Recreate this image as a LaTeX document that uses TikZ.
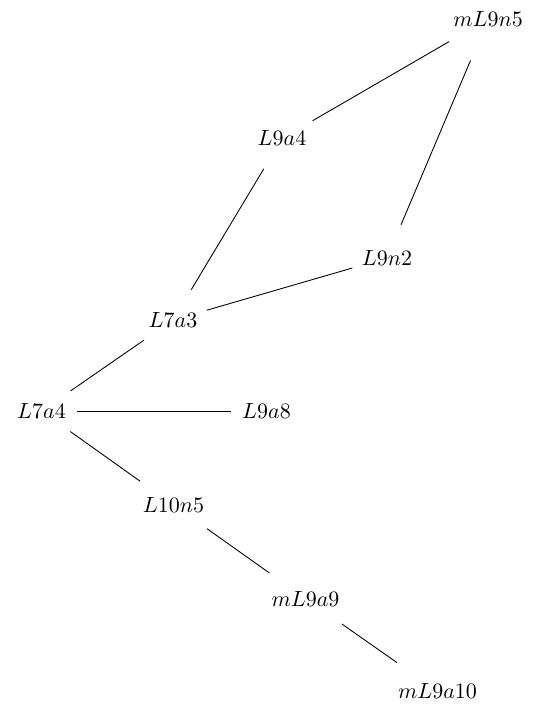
\documentclass[tikz,border=0pt]{standalone}
\usepackage{amsmath,amssymb}
\usetikzlibrary{positioning}
\tikzstyle{knot} = [circle]
\tikzstyle{link} = [thin]

\begin{document}
\begin{tikzpicture}[every node/.style={knot}]
\useasboundingbox (0,0) rectangle (8.658,11.262);
\node (mL9n5) at (7.796,10.958) {$mL9n5$};
\node (L9a4) at (4.505,9.05) {$L9a4$};
\node (L9n2) at (6.182,7.141) {$L9n2$};
\node (L7a3) at (2.764,6.150) {$L7a3$};
\node (L7a4) at (0.663,4.696) {$L7a4$};
\node (L9a8) at (4.257,4.696) {$L9a8$};
\node (L10n5) at (2.772,3.195) {$L10n5$};
\node (mL9a9) at (4.880,1.701) {$mL9a9$};
\node (mL9a10) at (6.989,0.224) {$mL9a10$};
\draw[link] (mL9n5)--(L9a4);
\draw[link] (mL9n5)--(L9n2);
\draw[link] (L9a4)--(L7a3);
\draw[link] (L9n2)--(L7a3);
\draw[link] (L7a3)--(L7a4);
\draw[link] (L7a4)--(L9a8);
\draw[link] (L7a4)--(L10n5);
\draw[link] (L10n5)--(mL9a9);
\draw[link] (mL9a9)--(mL9a10);
\end{tikzpicture}
\end{document}
